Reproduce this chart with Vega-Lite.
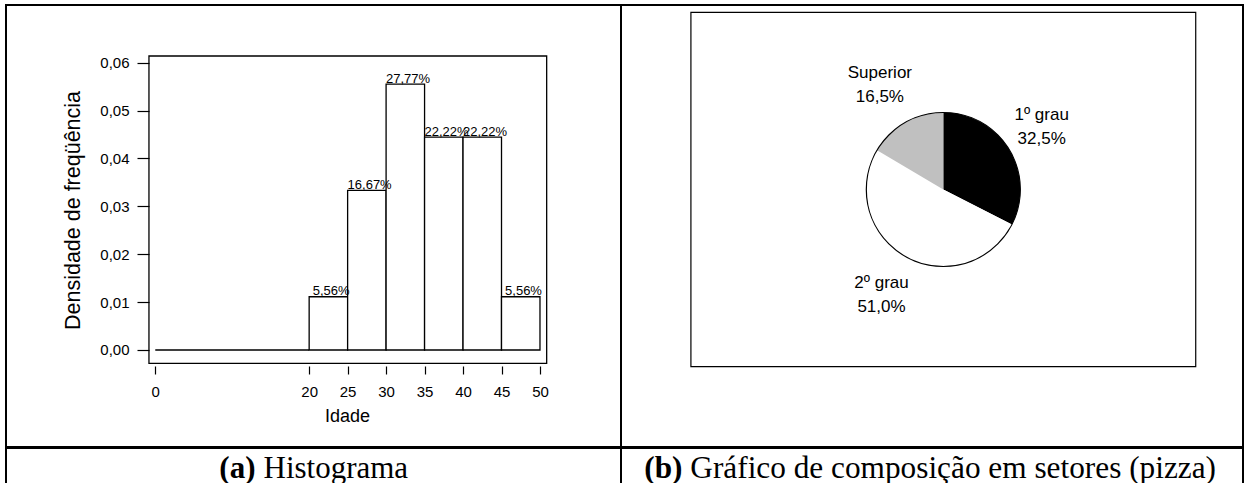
{
  "$schema": "https://vega.github.io/schema/vega-lite/v6.json",
  "padding": {"left": 5, "top": 4, "right": 0, "bottom": 0},
  "background": "white",
  "config": {
    "view": {"stroke": "black", "strokeWidth": 2, "fill": "white"},
    "font": "Liberation Sans",
    "axis": {"grid": false, "domain": false, "labelFont": "Liberation Sans", "titleFont": "Liberation Sans", "labelColor": "black", "titleColor": "black", "tickColor": "black", "titleFontWeight": "normal", "labelFontSize": 15, "tickWidth": 1.2}
  },
  "spacing": -1,
  "vconcat": [
    {
      "spacing": 0,
      "bounds": "flush",
      "hconcat": [
        {
          "width": 615,
          "height": 442,
          "data": {"values": [
            {"ini": 0, "fim": 20, "dens": 0, "rotulo": ""},
            {"ini": 20, "fim": 25, "dens": 0.01112, "rotulo": "5,56%"},
            {"ini": 25, "fim": 30, "dens": 0.03334, "rotulo": "16,67%"},
            {"ini": 30, "fim": 35, "dens": 0.05554, "rotulo": "27,77%"},
            {"ini": 35, "fim": 40, "dens": 0.04444, "rotulo": "22,22%"},
            {"ini": 40, "fim": 45, "dens": 0.04444, "rotulo": "22,22%"},
            {"ini": 45, "fim": 50, "dens": 0.01112, "rotulo": "5,56%"}
          ]},
          "layer": [
            {
              "data": {"values": [{}]},
              "mark": {"type": "rect", "fill": null, "stroke": "black", "strokeWidth": 1.3},
              "encoding": {
                "x": {"datum": -0.82, "type": "quantitative", "title": "Idade",
                  "scale": {"domain": [-19.40, 60.53], "nice": false, "zero": false},
                  "axis": {"values": [0, 20, 25, 30, 35, 40, 45, 50], "format": "d", "offset": -81, "tickSize": 8, "labelPadding": 10, "titleFontSize": 18, "titlePadding": 8, "titleX": 341, "labelFlush": false}},
                "x2": {"datum": 50.87},
                "y": {"datum": 0.0614, "type": "quantitative", "title": "Densidade de freqüência",
                  "scale": {"domain": [-0.02026, 0.07205], "nice": false, "zero": false},
                  "axis": {"values": [0, 0.01, 0.02, 0.03, 0.04, 0.05, 0.06], "labelExpr": "replace(format(datum.value, '.2f'), '.', ',')", "offset": -143, "tickSize": 12, "labelPadding": 8, "titleFontSize": 21.5, "titlePadding": 15, "titleY": 205, "labelFlush": false}},
                "y2": {"datum": -0.00278}
              }
            },
            {
              "mark": {"type": "rect", "fill": "white", "stroke": "black", "strokeWidth": 1.3},
              "encoding": {
                "x": {"field": "ini", "type": "quantitative", "title": "Idade"},
                "x2": {"field": "fim"},
                "y": {"field": "dens", "type": "quantitative", "title": "Densidade de freqüência"},
                "y2": {"datum": 0}
              }
            },
            {
              "transform": [{"filter": "datum.rotulo != ''"}],
              "mark": {"type": "text", "fontSize": 13, "baseline": "alphabetic", "dy": -1.5, "dx": 22, "color": "black"},
              "encoding": {
                "x": {"field": "ini", "type": "quantitative", "title": "Idade"},
                "y": {"field": "dens", "type": "quantitative", "title": "Densidade de freqüência"},
                "text": {"field": "rotulo"}
              }
            }
          ]
        },
        {
          "width": 622,
          "height": 442,
          "data": {"values": [
            {"grau": "1º grau", "pct": 32.5, "ordem": 1, "rotulo": "1º grau\n32,5%"},
            {"grau": "2º grau", "pct": 51.0, "ordem": 2, "rotulo": "2º grau\n51,0%"},
            {"grau": "Superior", "pct": 16.5, "ordem": 3, "rotulo": "Superior\n16,5%"}
          ]},
          "layer": [
            {
              "data": {"values": [{}]},
              "mark": {"type": "rect", "fill": null, "stroke": "black", "strokeWidth": 1.2},
              "encoding": {
                "x": {"datum": 0.1124, "type": "quantitative", "scale": {"domain": [0, 1], "nice": false, "zero": false}, "axis": null},
                "x2": {"datum": 0.924},
                "y": {"datum": 0.9835, "type": "quantitative", "scale": {"domain": [0, 1], "nice": false, "zero": false}, "axis": null},
                "y2": {"datum": 0.1817}
              }
            },
            {
              "mark": {"type": "arc", "radius": 77},
              "encoding": {
                "x": {"datum": 0.5182, "type": "quantitative", "axis": null},
                "y": {"datum": 0.5826, "type": "quantitative", "axis": null},
                "theta": {"field": "pct", "type": "quantitative", "stack": true},
                "order": {"field": "ordem", "type": "quantitative"},
                "color": {"field": "grau", "type": "nominal", "scale": {"domain": ["1º grau", "2º grau", "Superior"], "range": ["#000000", "#ffffff", "#c0c0c0"]}, "legend": null}
              }
            },
            {
              "data": {"values": [{}]},
              "mark": {"type": "arc", "radius": 77, "fill": null, "stroke": "black", "strokeWidth": 1.2},
              "encoding": {
                "x": {"datum": 0.5182, "type": "quantitative", "axis": null},
                "y": {"datum": 0.5826, "type": "quantitative", "axis": null}
              }
            },
            {
              "mark": {"type": "text", "radius": 120, "fontSize": 17, "lineBreak": "\n", "lineHeight": 24, "dy": -12, "dx": -4, "color": "black"},
              "encoding": {
                "x": {"datum": 0.5182, "type": "quantitative", "axis": null},
                "y": {"datum": 0.5826, "type": "quantitative", "axis": null},
                "theta": {"field": "pct", "type": "quantitative", "stack": true},
                "order": {"field": "ordem", "type": "quantitative"},
                "text": {"field": "rotulo"}
              }
            }
          ]
        }
      ]
    },
    {
      "spacing": 0,
      "bounds": "flush",
      "hconcat": [
        {
          "width": 615,
          "height": 40,
          "view": {"stroke": "black", "strokeWidth": 2, "fill": "white"},
          "data": {"values": [{"negrito": "(a)", "texto": "Histograma"}]},
          "layer": [
            {"mark": {"type": "text", "font": "Liberation Serif", "fontSize": 31, "fontWeight": "bold", "align": "right", "baseline": "alphabetic", "dx": -58, "dy": 9.7, "color": "black"}, "encoding": {"text": {"field": "negrito"}}},
            {"mark": {"type": "text", "font": "Liberation Serif", "fontSize": 31, "align": "left", "baseline": "alphabetic", "dx": -50, "dy": 9.7, "color": "black"}, "encoding": {"text": {"field": "texto"}}}
          ]
        },
        {
          "width": 622,
          "height": 40,
          "view": {"stroke": "black", "strokeWidth": 2, "fill": "white"},
          "data": {"values": [{"negrito": "(b)", "texto": "Gráfico de composição em setores (pizza)"}]},
          "layer": [
            {"mark": {"type": "text", "font": "Liberation Serif", "fontSize": 31.3, "fontWeight": "bold", "align": "right", "baseline": "alphabetic", "dx": -249.5, "dy": 9.7, "color": "black"}, "encoding": {"text": {"field": "negrito"}}},
            {"mark": {"type": "text", "font": "Liberation Serif", "fontSize": 31.3, "align": "left", "baseline": "alphabetic", "dx": -241.7, "dy": 9.7, "color": "black"}, "encoding": {"text": {"field": "texto"}}}
          ]
        }
      ]
    }
  ]
}
